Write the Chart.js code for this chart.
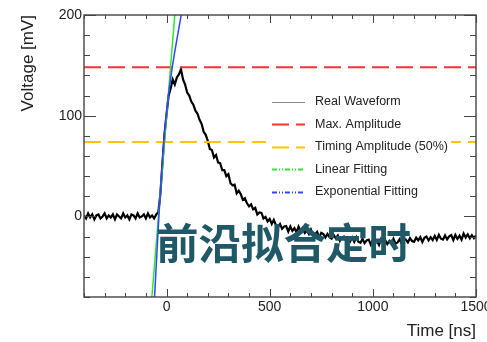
<!DOCTYPE html>
<html>
<head>
<meta charset="utf-8">
<script src="https://cdn.jsdelivr.net/npm/chart.js@4"></script>
<style>
  html, body { margin: 0; padding: 0; background: #fff; overflow: hidden; }
  #wrap { position: relative; width: 500px; height: 342px; }
  #stamp {
    position: absolute; left: 156px; top: 220px;
    font: 700 42.5px "Noto Sans CJK SC", sans-serif; line-height: 1;
    color: #1f5866; white-space: nowrap;
  }
</style>
</head>
<body>
<div id="wrap">
  <canvas id="scope"></canvas>
  <div id="stamp">前沿拟合定时</div>
</div>
<script>
// sampled waveform, 10 ns per sample
const timeNs = [
  -400, -390, -380, -370, -360, -350, -340, -330, -320, -310,
  -300, -290, -280, -270, -260, -250, -240, -230, -220, -210,
  -200, -190, -180, -170, -160, -150, -140, -130, -120, -110,
  -100, -90, -80, -70, -60, -50, -40, -30, -20, -10,
  0, 10, 20, 30, 40, 50, 60, 70, 80, 90,
  100, 110, 120, 130, 140, 150, 160, 170, 180, 190,
  200, 210, 220, 230, 240, 250, 260, 270, 280, 290,
  300, 310, 320, 330, 340, 350, 360, 370, 380, 390,
  400, 410, 420, 430, 440, 450, 460, 470, 480, 490,
  500, 510, 520, 530, 540, 550, 560, 570, 580, 590,
  600, 610, 620, 630, 640, 650, 660, 670, 680, 690,
  700, 710, 720, 730, 740, 750, 760, 770, 780, 790,
  800, 810, 820, 830, 840, 850, 860, 870, 880, 890,
  900, 910, 920, 930, 940, 950, 960, 970, 980, 990,
  1000, 1010, 1020, 1030, 1040, 1050, 1060, 1070, 1080, 1090,
  1100, 1110, 1120, 1130, 1140, 1150, 1160, 1170, 1180, 1190,
  1200, 1210, 1220, 1230, 1240, 1250, 1260, 1270, 1280, 1290,
  1300, 1310, 1320, 1330, 1340, 1350, 1360, 1370, 1380, 1390,
  1400, 1410, 1420, 1430, 1440, 1450, 1460, 1470, 1480, 1490,
  1500
];
const voltageMv = [
  1, -2, 3, -1, 2, -3, 1, 2, -2, 0,
  3, -2, 1, -1, 2, -3, 2, 0, -2, 3,
  -1, 1, -3, 2, 1, -2, 3, -1, 0, 2,
  -2, 3, -1, 1, -2, 2, 4, 22, 52, 81,
  101, 120, 127, 136, 131, 138, 141, 146, 136, 131,
  123, 120, 114, 111, 105, 102, 96, 92, 84, 81,
  75, 67, 66, 58.5, 61, 53.5, 53, 46, 46, 40,
  42, 33, 31, 31.5, 23, 25.5, 22, 16.5, 18, 13,
  10, 12, 7, 8.5, 2, 4, 3.5, -2, -0.5, -5,
  -2.5, -7.5, -3.5, -8.5, -10.5, -7.5, -12.3, -10, -9.5, -15,
  -10, -14.3, -11.6, -15.9, -10.2, -14.5, -12, -16.5, -14, -17.5,
  -13, -18.5, -18, -15.5, -21, -16.3, -17.6, -21, -17.3, -20.6,
  -22, -18.3, -21.6, -19, -24.3, -20.6, -20, -24.3, -21.6, -25,
  -21, -25.3, -20.6, -25, -26.2, -22.4, -26.6, -23.8, -23, -28,
  -23, -27.2, -24.3, -28.4, -22.5, -26.5, -23.5, -27.5, -24.4, -27.3,
  -22.2, -27, -25.8, -22.6, -27.4, -22.2, -23, -25.8, -21.6, -24.4,
  -25.2, -21, -23.8, -20.6, -25.4, -21.2, -20, -23.8, -20.6, -23.5,
  -19.4, -23.3, -18.2, -22.1, -23, -18.9, -22.8, -19.7, -18.6, -23.5,
  -18.4, -22.3, -19.2, -23.1, -17, -20.9, -17.8, -21.7, -18.6, -21.5,
  -19
];

// fitted leading edge
const linearT = [-71, 40];
const linearV = [-80, 200];
const expT = [-58, -37, -13, 8, 27, 71];
const expV = [-80, 0, 74, 118, 147, 200];

const maxAmplitude = 148;
const timingFraction = 0.5;
const spanT = [-400, 1500];

const xTickValues = [0, 500, 1000, 1500];
const yTickValues = [0, 100, 200];

const FONT = '"Liberation Sans", Arial, Helvetica, sans-serif';

const pts = (xs, ys) => xs.map((x, i) => ({ x, y: ys[i] }));
const flat = v => spanT.map(x => ({ x, y: v }));

// ROOT-style frame with inward ticks on all four sides
const frameTicks = {
  id: 'frameTicks',
  afterDatasetsDraw(chart) {
    const { ctx, chartArea: a, scales: { x, y } } = chart;
    ctx.save();
    ctx.strokeStyle = '#444';
    ctx.lineWidth = 1;
    ctx.beginPath();
    for (let v = -80; v <= 200; v += 20) {
      const py = Math.round(y.getPixelForValue(v)) + 0.5;
      const len = v % 100 === 0 ? 12 : 6;
      ctx.moveTo(a.left, py); ctx.lineTo(a.left + len, py);
      ctx.moveTo(a.right, py); ctx.lineTo(a.right - len, py);
    }
    for (let t = -400; t <= 1500; t += 100) {
      const px = Math.round(x.getPixelForValue(t)) + 0.5;
      const len = t % 500 === 0 ? 8 : 4;
      ctx.moveTo(px, a.bottom); ctx.lineTo(px, a.bottom - len);
      ctx.moveTo(px, a.top); ctx.lineTo(px, a.top + len);
    }
    ctx.stroke();
    ctx.lineWidth = 1.4;
    ctx.strokeRect(a.left, a.top, a.right - a.left, a.bottom - a.top);
    ctx.restore();
  }
};

// legend box inside the plot
const boxLegend = {
  id: 'boxLegend',
  afterDatasetsDraw(chart) {
    const { ctx } = chart;
    ctx.save();
    ctx.fillStyle = '#fff';
    ctx.fillRect(266, 90, 185, 113);
    ctx.font = '12.5px ' + FONT;
    ctx.textBaseline = 'middle';
    chart.data.datasets.forEach((ds, i) => {
      const yy = 101.7 + i * 22.5;
      ctx.strokeStyle = ds.legendColor || ds.borderColor;
      ctx.lineWidth = ds.legendWidth || 2;
      ctx.setLineDash(ds.legendDash || []);
      ctx.beginPath();
      ctx.moveTo(272, Math.round(yy) + 0.5);
      ctx.lineTo(305, Math.round(yy) + 0.5);
      ctx.stroke();
      ctx.setLineDash([]);
      ctx.fillStyle = '#222';
      ctx.fillText(ds.label, 315, yy);
    });
    ctx.restore();
  }
};

new Chart(document.getElementById('scope'), {
  type: 'line',
  data: {
    datasets: [
      {
        label: 'Real Waveform', data: pts(timeNs, voltageMv),
        borderColor: '#000', borderWidth: 2.2, order: 5,
        legendColor: '#888', legendWidth: 1
      },
      {
        label: 'Max. Amplitude', data: flat(maxAmplitude),
        borderColor: '#ff3030', borderWidth: 2, borderDash: [17, 7], order: 4,
        legendDash: [17, 7]
      },
      {
        label: 'Timing Amplitude (50%)', data: flat(maxAmplitude * timingFraction),
        borderColor: '#ffc400', borderWidth: 2, borderDash: [17, 7], order: 3,
        legendDash: [17, 7]
      },
      {
        label: 'Linear Fitting', data: pts(linearT, linearV),
        borderColor: '#2ee82e', borderWidth: 1.5, order: 2,
        legendDash: [5, 2, 1, 2, 1, 2]
      },
      {
        label: 'Exponential Fitting', data: pts(expT, expV),
        borderColor: '#3344ff', borderWidth: 1.5, order: 1,
        cubicInterpolationMode: 'monotone',
        legendDash: [5, 2, 1, 2, 1, 2]
      }
    ]
  },
  options: {
    responsive: true,
    maintainAspectRatio: false,
    animation: false,
    layout: { padding: { top: 15, right: 24, left: 0, bottom: 0 } },
    elements: { point: { radius: 0 }, line: { tension: 0 } },
    plugins: { legend: { display: false }, tooltip: { enabled: false } },
    scales: {
      x: {
        type: 'linear', min: -400, max: 1500,
        grid: { display: false, drawTicks: false },
        border: { display: false },
        afterBuildTicks: s => { s.ticks = xTickValues.map(v => ({ value: v })); },
        afterFit: s => { s.height = 45; },
        ticks: {
          padding: 2, maxRotation: 0, autoSkip: false, color: '#222',
          font: { family: FONT, size: 14 }, callback: v => String(v)
        },
        title: {
          display: true, text: 'Time [ns]', align: 'end', color: '#222',
          font: { family: FONT, size: 17 }, padding: 0
        }
      },
      y: {
        type: 'linear', min: -80, max: 200,
        grid: { display: false, drawTicks: false },
        border: { display: false },
        afterBuildTicks: s => { s.ticks = yTickValues.map(v => ({ value: v })); },
        afterFit: s => { s.width = 84; },
        ticks: {
          padding: 2, color: '#222',
          font: { family: FONT, size: 14 }, callback: v => String(v)
        },
        title: {
          display: true, text: 'Voltage [mV]', align: 'end', color: '#222',
          font: { family: FONT, size: 17 }, padding: { top: 18, bottom: 0 }
        }
      }
    }
  },
  plugins: [boxLegend, frameTicks]
});
</script>
</body>
</html>
